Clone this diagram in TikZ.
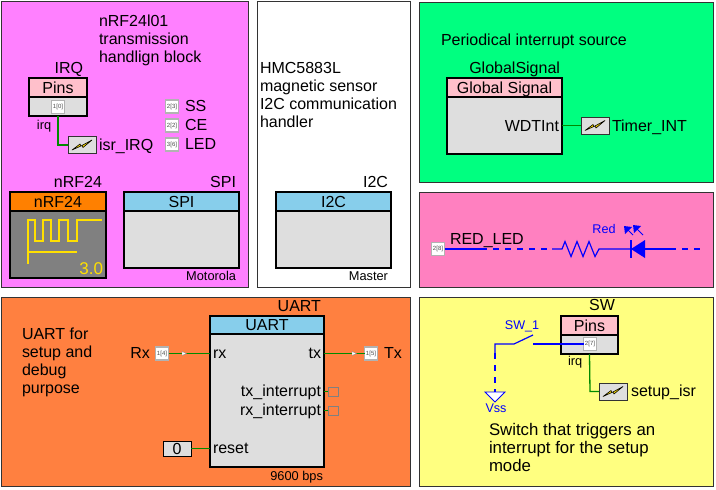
\documentclass[tikz,border=0pt]{standalone}
\usepackage{fontspec}
\setmainfont{Liberation Sans}
\tikzset{
  x=1pt,y=-1pt,
  panel/.style={draw=black!80,line width=0.8pt,inner sep=0,outer sep=0,anchor=north west},
  blockbody/.style={draw=black,line width=1.2pt,fill=blockgray,inner sep=0,outer sep=0,anchor=north west},
  blocktitle/.style={draw=black,line width=1.2pt,inner sep=0,outer sep=0,anchor=north west,font=\fontsize{16}{18}\selectfont,text height=11.5pt,text depth=0pt},
  lbl/.style={inner sep=0,outer sep=0,font=\fontsize{16}{18}\selectfont,text=black,text height=11.5pt,text depth=0pt},
  lblbig/.style={inner sep=0,outer sep=0,font=\fontsize{16.8}{18}\selectfont,text=black,text height=12pt,text depth=0pt},
  small/.style={inner sep=0,outer sep=0,font=\fontsize{12.8}{14}\selectfont,text=black,text height=9.2pt,text depth=0pt},
  pinbox/.style={draw=black!30,line width=1.1pt,fill=white,inner sep=0,outer sep=0,minimum width=13pt,minimum height=13pt,font=\fontsize{6}{7}\selectfont,text=black!70},
  isrbox/.style={draw=black!80,line width=1pt,fill=blockgray,inner sep=0,outer sep=0,minimum width=28pt,minimum height=17pt},
  wire/.style={draw=wiregreen,line width=1.3pt},
  bluewire/.style={draw=schblue,line width=1.2pt},
  dashwire/.style={draw=schblue,line width=1.2pt,dash pattern=on 6pt off 6pt},
  bluetxt/.style={inner sep=0,outer sep=0,font=\fontsize{12.6}{14}\selectfont,text=schblue,text height=9pt,text depth=0pt},
  flag/.style={fill=white,draw=black!50,line width=0.3pt},
  stub/.style={draw=black!50,line width=1pt,fill=none,inner sep=0,outer sep=0,minimum width=10pt,minimum height=9pt},
}
\definecolor{blockgray}{HTML}{DEDEDE}
\definecolor{wiregreen}{HTML}{008A00}
\definecolor{schblue}{HTML}{0000FF}
\definecolor{magentap}{HTML}{FF80FF}
\definecolor{greenp}{HTML}{00FF80}
\definecolor{pinkp}{HTML}{FF80C0}
\definecolor{orangep}{HTML}{FF8040}
\definecolor{yellowp}{HTML}{FFFF80}
\definecolor{titleblue}{HTML}{87CEEB}
\definecolor{titlepink}{HTML}{FFC0CB}
\definecolor{titleorange}{HTML}{FF8000}
\definecolor{antenna}{HTML}{FFE000}
% name, x1, y1, split, x2, y2, fill, title
\newcommand{\myblock}[8]{%
  \pgfmathsetlengthmacro{\bw}{#5-#2}%
  \pgfmathsetlengthmacro{\bh}{#6-#4}%
  \pgfmathsetlengthmacro{\th}{#4-#3}%
  \node[blockbody,minimum width=\bw,minimum height=\bh] (#1) at (#2,#4) {};
  \node[blocktitle,fill=#7,minimum width=\bw,minimum height=\th] (#1t) at (#2,#3) {#8};
}
\newcommand{\mypanel}[6]{%
  \pgfmathsetlengthmacro{\bw}{#4-#2}%
  \pgfmathsetlengthmacro{\bh}{#5-#3}%
  \node[panel,fill=#6,minimum width=\bw,minimum height=\bh] (#1) at (#2,#3) {};
}
\newcommand{\myisr}[3]{%
  \node[isrbox] (#1) at (#2,#3) {};
  \draw[black,line width=0.6pt,fill=antenna,line join=round] (#2-10,#3+5) -- (#2-2,#3-1) -- (#2-1,#3+1) -- (#2+10,#3-5) -- (#2+1,#3+2.5) -- (#2,#3+0.5) -- cycle;
}
\begin{document}
\begin{tikzpicture}
\useasboundingbox (0,0) rectangle (716,490);
\fill[white] (0,0) rectangle (716,490);
\mypanel{pa}{1}{1}{248}{287}{magentap}
\mypanel{pb}{257}{1}{410}{287}{white}
\mypanel{pc}{419}{2}{713}{182}{greenp}
\mypanel{pd}{419}{192}{713}{287}{pinkp}
\mypanel{pe}{1}{297}{410}{486}{orangep}
\mypanel{pf}{419}{297}{713}{486}{yellowp}

% magenta panel
\node[lbl,anchor=west] (t1) at (99,21) {nRF24l01};
\node[lbl,anchor=west] (t2) at (99,39) {transmission};
\node[lbl,anchor=west] (t3) at (99,57) {handlign block};
\node[lbl,anchor=east] (irqn) at (83,68) {IRQ};
\myblock{pins}{29}{78}{97}{87}{116}{titlepink}{Pins}
\node[pinbox] (p10) at (58,107) {1[0]};
\node[small,anchor=west] (irql) at (37,125) {irq};
\myisr{isra}{82}{145}
\node[lbl,anchor=west] (isral) at (99,145) {isr\_IRQ};
\draw[wire] (pins.south) -- (58,145) -- (isra.west);
\node[pinbox] (p23) at (172,106.5) {2[3]};
\node[pinbox] (p22) at (172,125.5) {2[2]};
\node[pinbox] (p36) at (172,144.5) {3[6]};
\node[lbl,anchor=west] (ss) at (185,106) {SS};
\node[lbl,anchor=west] (ce) at (185,125) {CE};
\node[lbl,anchor=west] (led) at (185,144) {LED};

\node[lbl,anchor=east] (nrfn) at (102,182) {nRF24};
\myblock{nrf}{10}{192}{211}{106}{278}{titleorange}{nRF24}
\fill[black!50] (nrf.north west) rectangle (nrf.south east);
\draw[black,line width=1.2pt] (nrf.north west) rectangle (nrf.south east);
\draw[antenna,line width=2pt] (28,264) -- (28,220) -- (35,220) -- (35,241) -- (43,241) -- (43,220) -- (51,220) -- (51,241) -- (59,241) -- (59,220) -- (68,220) -- (68,241) -- (77,241) -- (77,220) -- (102,220);
\draw[antenna,line width=2pt] (28,252) -- (77,252);
\node[inner sep=0,outer sep=0,anchor=east,font=\fontsize{17}{18}\selectfont,text=antenna,text height=12pt,text depth=0pt] (ver) at (103,268) {3.0};

\node[lbl,anchor=east] (spin) at (236,182) {SPI};
\myblock{spi}{124}{192}{211}{239}{268}{titleblue}{SPI}
\node[small,anchor=east] (moto) at (236,276) {Motorola};

% white panel
\node[lbl,anchor=west] (h1) at (260,68) {HMC5883L};
\node[lbl,anchor=west] (h2) at (260,86) {magnetic sensor};
\node[lbl,anchor=west] (h3) at (260,104) {I2C communication};
\node[lbl,anchor=west] (h4) at (260,122) {handler};
\node[lbl,anchor=east] (i2cn) at (388,182) {I2C};
\myblock{i2c}{276}{192}{211}{391}{268}{titleblue}{I2C}
\node[small,anchor=east] (mast) at (388,276) {Master};

% green panel
\node[lbl,anchor=west] (per) at (441,40) {Periodical interrupt source};
\node[lbl,anchor=east] (gsn) at (560,68) {GlobalSignal};
\myblock{gs}{447}{78}{97}{562}{154}{titlepink}{Global Signal}
\node[lbl,anchor=east] (wdt) at (559,126) {WDTInt};
\myisr{isrb}{595}{125.5}
\draw[wire] (562,125.5) -- (isrb.west);
\node[lbl,anchor=west] (tint) at (612,125.5) {Timer\_INT};

% pink panel
\node[pinbox] (p28) at (438,249) {2[8]};
\node[lbl,anchor=west] (rl) at (450,239) {RED\_LED};
\coordinate (ra) at (481,249);
\coordinate (rb) at (552,249);
\coordinate (rc) at (670,249);
\coordinate (rd) at (701,249);
\draw[bluewire] (p28.east) -- (ra);
\draw[dashwire] (ra) -- (rb);
\draw[bluewire] (rb) -- (562,249) -- (565,241.5) -- (571,256.5) -- (577,241.5) -- (583,256.5) -- (589,241.5) -- (595,256.5) -- (599,249) -- (631,249);
\draw[schblue,line width=2pt] (631,240) -- (631,258);
\fill[schblue] (631,249) -- (645,240) -- (645,258) -- cycle;
\draw[bluewire] (645,249) -- (rc);
\draw[dashwire] (rc) -- (rd);
\node[bluetxt,anchor=center] (red) at (604,229) {Red};
\draw[schblue,line width=0.9pt] (625,227) -- (633,235);
\fill[schblue] (624,226) -- (632,227) -- (625,234) -- cycle;
\draw[schblue,line width=0.9pt] (634,226) -- (643,235);
\fill[schblue] (633,225) -- (641,226) -- (634,233) -- cycle;

% orange panel
\node[lbl,anchor=west] (u1) at (22,334) {UART for};
\node[lbl,anchor=west] (u2) at (22,352) {setup and};
\node[lbl,anchor=west] (u3) at (22,370) {debug};
\node[lbl,anchor=west] (u4) at (22,388) {purpose};
\node[lbl,anchor=east] (un) at (321,306) {UART};
\myblock{uart}{210}{316}{334}{324}{467}{titleblue}{UART}
\node[lbl,anchor=east] (rxn) at (150,353) {Rx};
\node[pinbox] (p14) at (162,353.5) {1[4]};
\node[lbl,anchor=west] (rxi) at (213,353) {rx};
\draw[wire] (p14.east) -- (210,353.5);
\draw[flag] (182,351.5) -- (186.5,353.5) -- (182,355.5) -- cycle;
\node[lbl,anchor=east] (txi) at (321,353) {tx};
\node[pinbox] (p15) at (371,353.5) {1[5]};
\draw[wire] (324,353.5) -- (p15.west);
\draw[flag] (352,351.5) -- (356.5,353.5) -- (352,355.5) -- cycle;
\node[lbl,anchor=west] (txn) at (384,353) {Tx};
\node[lbl,anchor=east] (txint) at (321,391) {tx\_interrupt};
\node[lbl,anchor=east] (rxint) at (321,410) {rx\_interrupt};
\node[stub] (s1) at (333,391.5) {};
\node[stub] (s2) at (333,410.5) {};
\draw[wire] (324,391.5) -- (s1.west);
\draw[wire] (324,410.5) -- (s2.west);
\node[draw=black,line width=1pt,fill=blockgray,inner sep=0,outer sep=0,minimum width=28pt,minimum height=15pt,font=\fontsize{16}{18}\selectfont,text height=11.5pt,text depth=0pt] (zero) at (177,448.5) {0};
\draw[wire] (zero.east) -- (210,448.5);
\node[lbl,anchor=west] (rst) at (213,448) {reset};
\node[small,anchor=east] (baud) at (323,476) {9600 bps};

% yellow panel
\node[lbl] (swn) at (602,305) {SW};
\myblock{sw}{561}{316}{335}{618}{354}{titlepink}{Pins}
\node[pinbox] (p27) at (590,344) {2[7]};
\node[small,anchor=west] (irqs) at (568,361) {irq};
\myisr{isrc}{613}{391.5}
\draw[wire] (sw.south) -- (590,391.5) -- (isrc.west);
\node[lbl,anchor=west] (sisr) at (631,391) {setup\_isr};
\node[bluetxt] (swl) at (522,325) {SW\_1};
\draw[bluewire] (533,344) -- (p27.west);
\draw[bluewire] (495,353) -- (495,344) -- (514,344) -- (533,335);
\draw[dashwire] (495,353) -- (495,392);
\draw[schblue,line width=0.8pt,fill=white] (485,392) -- (505,392) -- (495,402) -- cycle;
\node[bluetxt] (vss) at (496,408) {Vss};
\node[lblbig,anchor=west] (st1) at (489,429) {Switch that triggers an};
\node[lblbig,anchor=west] (st2) at (489,447) {interrupt for the setup};
\node[lblbig,anchor=west] (st3) at (489,465) {mode};
\end{tikzpicture}
\end{document}
